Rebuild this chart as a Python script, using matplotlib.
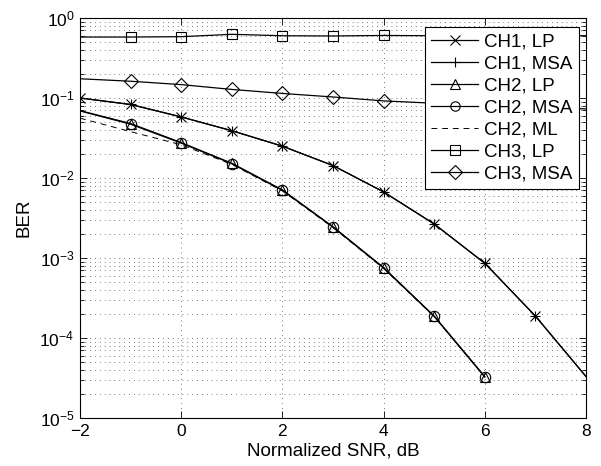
import numpy as np
import matplotlib
matplotlib.use("Agg")
import matplotlib.pyplot as plt
from matplotlib.ticker import LogLocator, NullFormatter, FixedLocator

plt.rcParams['font.family'] = ['Liberation Sans', 'DejaVu Sans']
plt.rcParams['mathtext.fontset'] = 'custom'
plt.rcParams['mathtext.rm'] = 'Liberation Sans'
plt.rcParams['mathtext.it'] = 'Liberation Sans'
plt.rcParams['mathtext.default'] = 'regular'

snr = [-2, -1, 0, 1, 2, 3, 4, 5, 6, 7, 8]
ch1_lp = [0.100, 0.083, 0.058, 0.039, 0.025, 0.0143, 0.0067, 0.00266, 8.6e-4, 1.88e-4, 3.3e-5]
ch1_msa = [0.100, 0.083, 0.058, 0.039, 0.025, 0.0143, 0.0067, 0.00266, 8.6e-4, 1.88e-4, 3.3e-5]

snr2 = [-2, -1, 0, 1, 2, 3, 4, 5, 6]
ch2_lp = [0.0695, 0.048, 0.0277, 0.0153, 0.0071, 0.00246, 7.6e-4, 1.88e-4, 3.3e-5]
ch2_msa = [0.0690, 0.047, 0.0273, 0.0151, 0.0070, 0.00243, 7.5e-4, 1.86e-4, 3.25e-5]
ch2_ml = [0.056, 0.038, 0.026, 0.0148, 0.0069, 0.0024, 7.4e-4, 1.85e-4, 3.25e-5]

snr3 = [-2, -1, 0, 1, 2, 3, 4, 5, 6, 7, 8]
ch3_lp = [0.578, 0.578, 0.584, 0.625, 0.600, 0.596, 0.605, 0.60, 0.60, 0.60, 0.60]
ch3_msa = [0.174, 0.162, 0.147, 0.128, 0.114, 0.103, 0.092, 0.086, 0.081, 0.077, 0.073]

xticks = [-2, 0, 2, 4, 6, 8]
xticklabels = ['\u22122', '0', '2', '4', '6', '8']

fig = plt.figure(figsize=(6.01, 4.66), dpi=100)
ax = fig.add_axes([80/601, 48/466, 506/601, 400/466])

lw = 0.9
ms = 7.5
mew = 0.8
common = dict(color='black', linewidth=lw, markersize=ms, markeredgewidth=mew,
              markerfacecolor='none', markeredgecolor='black')

ax.plot(snr, ch1_lp, marker='x', markevery=list(range(0, 10)), label='CH1, LP', **common)
ax.plot(snr, ch1_msa, marker='+', markevery=list(range(0, 10)), label='CH1, MSA', **common)
ax.plot(snr2, ch2_lp, marker='^', markevery=list(range(1, 9)), label='CH2, LP', **common)
ax.plot(snr2, ch2_msa, marker='o', markevery=list(range(1, 9)), label='CH2, MSA', **common)
ax.plot(snr2, ch2_ml, linestyle=(0, (6, 5)), color='black', linewidth=0.7, label='CH2, ML')
ax.plot(snr3, ch3_lp, marker='s', markevery=list(range(1, 10)), label='CH3, LP', **common)
ax.plot(snr3, ch3_msa, marker='D', markevery=list(range(1, 10)), label='CH3, MSA', **common)

ax.set_yscale('log')
ax.set_xlim(-2, 8)
ax.set_ylim(1e-5, 1)
ax.xaxis.set_major_locator(FixedLocator(xticks))
ax.set_xticklabels(xticklabels)
ax.yaxis.set_major_locator(LogLocator(base=10, numticks=10))
ax.yaxis.set_minor_locator(LogLocator(base=10, subs=np.arange(2, 10), numticks=20))
ax.yaxis.set_minor_formatter(NullFormatter())

ax.grid(True, which='major', axis='both', linestyle=(0, (1, 6)), color='black', linewidth=0.5)
ax.grid(True, which='minor', axis='y', linestyle=(0, (1, 6)), color='black', linewidth=0.5)

ax.tick_params(which='both', direction='in', top=True, right=True, labelsize=12.5, width=0.6)
ax.tick_params(which='major', length=5, pad=4)
ax.tick_params(which='minor', length=3)
for s in ax.spines.values():
    s.set_linewidth(0.8)

ax.set_xlabel('Normalized SNR, dB', fontsize=13.5, labelpad=3)
ax.set_ylabel('BER', fontsize=13.5, labelpad=5)

leg = ax.legend(loc='upper right', bbox_to_anchor=(0.986, 0.9775), borderaxespad=0,
                fontsize=13.5, handlelength=2.5, handletextpad=0.3, labelspacing=0.26,
                fancybox=False, framealpha=1, edgecolor='black', borderpad=0.35,
                markerscale=0.9)
leg.get_frame().set_linewidth(0.8)

fig.savefig('out.png', dpi=100)
